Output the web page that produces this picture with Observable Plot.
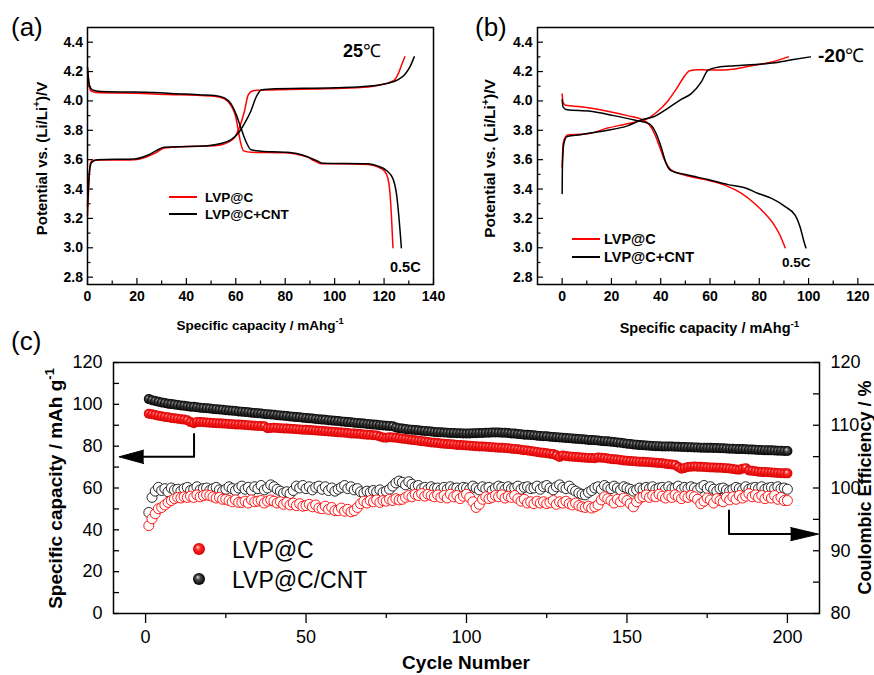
<!DOCTYPE html>
<html><head><meta charset="utf-8">
<script src="https://cdn.jsdelivr.net/npm/d3@7"></script>
<script src="https://cdn.jsdelivr.net/npm/@observablehq/plot@0.6"></script>
<style>
body{margin:0;background:#fff;font-family:"Liberation Sans",Arial,sans-serif;}
#wrap{position:relative;width:874px;height:675px;overflow:hidden;background:#fff}
.panel{position:absolute}
</style></head><body>
<div id="wrap">
<div id="pa" class="panel" style="left:0;top:0;width:440px;height:340px"></div>
<div id="pb" class="panel" style="left:440px;top:0;width:448px;height:340px"></div>
<div id="pc" class="panel" style="left:0;top:330px;width:874px;height:345px"></div>
</div>
<script>
// ---------------- DATA ----------------
const seriesAB = ["LVP@C", "LVP@C+CNT"];
const seriesC = ["LVP@C", "LVP@C/CNT"];
const seriesColors = ["#ff0000", "#000000"];

// panel (a) 25 °C : [capacity mAh/g, potential V]
const aRedCharge = [[0,3.22],[0.5,3.42],[1.1,3.57],[2,3.595],[5,3.597],[12,3.598],[19,3.6],[24,3.62],[28,3.65],[31,3.68],[40.5,3.69],[51,3.695],[55,3.705],[57,3.72],[59.5,3.75],[61.5,3.82],[63.5,3.93],[65,4.04],[67,4.07],[73,4.075],[86.5,4.08],[100,4.085],[113.5,4.095],[120,4.115],[124,4.14],[126,4.195],[127.2,4.25],[128.4,4.3]];
const aBlackCharge = [[0,3.28],[0.7,3.5],[1.6,3.58],[4,3.6],[19,3.605],[24.3,3.63],[27.7,3.66],[31,3.685],[40.5,3.69],[48.6,3.695],[54,3.71],[58,3.735],[60.8,3.776],[63.5,3.845],[66.2,3.935],[68.2,4.025],[70.3,4.075],[73,4.08],[100,4.09],[113.5,4.1],[121.6,4.12],[125.7,4.145],[128.4,4.18],[130.4,4.23],[132.2,4.3]];
const aRedDischarge = [[0,4.2],[0.7,4.1],[1.6,4.066],[5.4,4.055],[19,4.053],[32.4,4.044],[46,4.037],[51.4,4.032],[55.4,4.014],[58,3.97],[60,3.89],[61,3.8],[61.9,3.72],[63.2,3.66],[66.2,3.65],[79.7,3.647],[85,3.636],[89,3.617],[92,3.59],[94.6,3.572],[100,3.572],[113.5,3.567],[117.6,3.549],[120.3,3.52],[121.6,3.47],[122.3,3.39],[123,3.21],[123.6,3.0]];
const aBlackDischarge = [[0,4.23],[0.8,4.105],[2,4.075],[5.4,4.064],[19,4.06],[32.4,4.053],[46,4.041],[51.4,4.037],[55.4,4.021],[58.1,3.98],[60.1,3.91],[62.2,3.81],[64.2,3.72],[66.2,3.667],[70.3,3.658],[79.7,3.651],[85,3.64],[89,3.62],[92.6,3.594],[95.3,3.576],[113.5,3.572],[117.6,3.556],[121,3.526],[123.6,3.47],[125,3.37],[126,3.21],[127,3.0]];

// panel (b) -20 °C
const bRedCharge = [[0,3.55],[0.4,3.71],[1.4,3.757],[2.7,3.77],[7.5,3.773],[11.6,3.78],[18.4,3.815],[25.2,3.84],[30.6,3.86],[34.7,3.88],[38.8,3.93],[42.9,4.0],[46.3,4.08],[49.7,4.17],[51.7,4.206],[55.1,4.213],[59.2,4.21],[66,4.21],[70,4.218],[76.9,4.24],[83.7,4.26],[91.8,4.3]];
const bBlackCharge = [[0,3.37],[0.1,3.55],[0.7,3.71],[2,3.757],[7.5,3.77],[12.9,3.785],[18.4,3.8],[26.5,3.83],[32,3.87],[37.4,3.894],[42.9,3.95],[48.3,4.01],[52.4,4.05],[56.5,4.13],[59.2,4.21],[63.3,4.23],[70,4.24],[79.6,4.25],[86.4,4.26],[93.2,4.28],[100.7,4.3]];
const bRedDischarge = [[0,4.047],[0.3,3.997],[1.4,3.97],[7.5,3.96],[18.4,3.93],[26.5,3.9],[32,3.876],[35.4,3.837],[37.4,3.78],[39.5,3.69],[41.5,3.6],[44.2,3.53],[48.3,3.502],[59.2,3.46],[66,3.427],[72.8,3.37],[78.2,3.3],[82.3,3.233],[85.7,3.165],[88.4,3.085],[90.5,3.0]];
const bBlackDischarge = [[0,4.008],[0.4,3.958],[2,3.94],[11.6,3.93],[21,3.9],[29.3,3.87],[35.4,3.844],[38.1,3.78],[40.1,3.69],[42.2,3.575],[44.2,3.525],[51,3.495],[59.2,3.465],[67.3,3.43],[74.1,3.409],[79.6,3.37],[85,3.336],[90.5,3.28],[94.6,3.22],[96.6,3.14],[98,3.05],[98.9,3.0]];

// panel (c) cycling, cycles 1..200
const capLVP = [95.5,95.2,94.9,94.6,94.3,94.0,93.8,93.5,93.3,93.1,
92.9,92.7,92.4,91.5,91.0,91.6,91.5,91.4,91.3,91.2,
91.1,91.0,90.9,90.8,90.7,90.6,90.5,90.4,90.3,90.2,
90.1,90.0,89.9,89.8,89.7,89.6,89.5,88.6,88.7,88.8,
88.7,88.6,88.5,88.4,88.3,88.2,88.1,88.0,87.9,87.8,
87.7,87.6,87.5,87.4,87.3,87.1,87.0,86.9,86.8,86.6,
86.5,86.4,86.3,86.1,86.0,85.9,85.8,85.6,85.5,85.4,
85.2,85.1,84.6,84.2,84.0,84.3,84.2,84.0,83.8,83.6,
83.4,83.2,83.0,82.8,82.6,82.4,82.2,82.0,81.8,81.6,
81.5,81.3,81.2,81.0,80.9,80.8,80.6,80.5,80.4,80.3,
80.2,80.1,80.0,79.9,79.8,79.7,79.6,79.5,79.4,79.3,
79.2,79.1,79.0,78.8,78.7,78.5,78.3,78.1,77.9,77.7,
77.5,77.2,77.0,76.8,76.6,76.4,76.2,75.6,74.8,75.5,
75.3,75.1,75.0,74.8,74.7,74.6,74.5,74.4,74.3,74.2,
74.6,74.5,74.3,74.1,73.9,73.7,73.6,73.4,73.2,73.0,
72.9,72.8,72.7,72.6,72.5,72.4,72.3,72.2,72.1,72.0,
71.8,71.6,71.4,71.2,71.0,70.0,69.2,69.6,70.0,70.2,
70.3,70.2,70.1,70.0,69.9,69.8,69.8,69.7,69.7,69.6,
69.5,69.3,69.1,68.9,68.7,69.2,69.5,68.4,68.2,68.0,
67.8,67.7,67.6,67.5,67.4,67.3,67.2,67.1,67.0,67.0];
const capCNT = [102.5,102.0,101.6,101.2,100.9,100.6,100.3,100.1,99.9,99.7,
99.5,99.3,99.1,98.9,98.8,98.6,98.4,98.3,98.1,98.0,
97.8,97.7,97.5,97.4,97.2,97.1,96.9,96.8,96.6,96.5,
96.3,96.2,96.0,95.9,95.7,95.6,95.4,95.3,95.1,95.0,
94.8,94.7,94.5,94.4,94.2,94.1,93.9,93.8,93.6,93.5,
93.3,93.2,93.0,92.9,92.7,92.6,92.4,92.3,92.1,92.0,
91.8,91.7,91.5,91.4,91.2,91.1,90.9,90.8,90.6,90.5,
90.3,90.2,90.0,89.9,89.8,89.7,89.5,88.9,88.6,88.4,
88.2,88.0,87.9,87.7,87.6,87.4,87.3,87.1,87.0,86.8,
86.7,86.6,86.5,86.4,86.3,86.3,86.2,86.2,86.1,86.1,
86.1,86.2,86.2,86.3,86.3,86.4,86.4,86.5,86.5,86.5,
86.4,86.4,86.3,86.1,86.0,85.8,85.7,85.5,85.4,85.3,
85.2,85.0,84.9,84.8,84.7,84.5,84.4,84.3,84.2,84.0,
83.9,83.8,83.7,83.5,83.4,83.3,83.2,83.0,82.9,82.8,
82.7,82.5,82.4,82.3,82.1,82.0,81.8,81.6,81.4,81.2,
81.0,80.8,80.7,80.5,80.4,80.3,80.2,80.1,80.0,80.0,
79.9,79.9,79.8,79.8,79.7,79.7,79.6,79.6,79.5,79.5,
79.4,79.4,79.3,79.3,79.2,79.2,79.1,79.1,79.0,79.0,
78.9,78.8,78.8,78.7,78.6,78.6,78.5,78.4,78.4,78.3,
78.2,78.2,78.1,78.0,78.0,77.9,77.8,77.8,77.7,77.7];
const ceLVP = [94.0,95.1,95.9,96.7,96.9,97.3,97.7,98.0,98.3,98.5,
98.4,98.6,98.5,98.7,98.5,98.9,98.6,98.8,98.9,98.8,
98.6,98.4,98.5,98.2,98.2,98.0,97.8,98.1,97.7,97.7,
97.9,97.6,98.1,97.8,97.9,98.0,97.6,97.9,98.1,97.9,
97.6,97.8,97.4,97.7,97.3,97.6,97.2,97.5,97.1,97.2,
97.4,97.0,97.3,96.8,96.7,97.1,96.6,96.9,96.4,96.4,
96.8,96.3,96.6,96.2,96.4,96.9,97.5,97.9,97.6,98.0,
97.8,98.1,97.7,98.0,97.9,98.2,98.0,98.3,98.1,98.2,
98.5,98.8,98.6,99.0,98.8,99.1,98.7,99.0,98.8,98.6,
98.9,98.5,98.8,98.4,99.0,98.6,98.8,98.3,98.7,99.0,
98.5,97.8,96.9,97.4,98.2,98.6,98.3,98.5,98.8,98.6,
98.9,98.4,98.7,98.5,98.8,98.3,97.9,98.2,97.6,97.8,
97.5,97.9,97.6,97.8,97.5,97.7,98.0,97.4,97.8,97.6,
97.9,97.5,97.3,97.6,97.2,97.0,96.9,97.1,96.8,97.0,
97.3,98.1,98.6,98.3,98.0,97.6,98.2,97.8,98.4,98.0,
97.5,97.0,97.8,98.4,98.6,98.9,98.5,98.8,98.6,99.0,
98.7,98.4,98.8,98.5,98.9,98.6,98.3,98.7,98.5,98.8,
98.6,98.2,97.5,97.9,98.4,98.1,97.6,98.3,98.0,97.8,
98.5,98.1,98.6,98.2,98.8,98.4,98.7,99.1,98.6,98.9,
98.5,98.8,98.3,98.7,98.4,98.8,98.2,98.5,98.0,98.0];
const ceCNT = [96.1,98.5,99.5,100.1,99.6,99.9,99.4,100.0,99.7,99.8,
99.5,99.9,100.1,99.6,99.8,100.2,99.7,99.9,100.0,99.6,
99.9,100.1,99.7,99.5,99.8,100.2,99.9,99.6,100.0,100.3,
99.8,100.1,99.6,100.2,99.9,100.4,99.7,100.0,100.5,100.2,
99.8,99.5,99.2,99.4,99.1,99.6,100.3,100.0,100.4,99.9,
100.2,99.7,100.1,100.3,99.8,100.2,99.6,100.0,99.5,99.8,
100.1,100.4,99.9,100.2,99.7,99.9,99.4,99.2,99.5,99.3,
99.6,99.4,99.7,99.3,99.5,99.8,100.3,100.8,101.1,100.9,
100.5,101.0,100.6,100.2,100.4,99.9,100.1,99.8,100.2,99.9,
100.0,99.7,100.1,99.8,100.2,99.9,100.0,99.7,100.1,100.0,
99.8,100.3,100.0,99.7,100.2,99.9,100.1,99.6,100.0,100.3,
100.1,99.8,100.2,99.9,100.0,100.3,99.8,100.1,100.2,99.9,
100.0,100.3,99.8,100.2,100.4,100.0,99.7,100.2,100.5,100.1,
99.9,100.3,99.8,99.5,99.2,99.0,98.9,99.3,99.6,100.0,
100.2,99.8,100.4,100.1,99.9,100.3,100.0,99.7,100.2,100.0,
99.8,99.5,99.7,100.0,99.8,100.1,99.9,100.2,99.8,100.0,
100.1,99.8,100.2,99.9,100.0,100.3,99.8,100.1,99.9,100.2,
100.0,99.7,100.1,100.4,99.9,100.2,99.8,99.5,99.9,100.0,
99.7,99.5,99.8,100.1,99.9,99.7,100.2,99.8,100.0,100.1,
99.9,100.2,99.8,100.0,100.1,99.9,100.2,99.9,100.0,99.8];

// tick values / labels
const aXTicks = [0,20,40,60,80,100,120,140];
const aXMinor = [10,30,50,70,90,110,130];
const bXTicks = [0,20,40,60,80,100,120];
const bXMinor = [10,30,50,70,90,110];
const vTicks = [2.8,3.0,3.2,3.4,3.6,3.8,4.0,4.2,4.4];
const vMinor = [2.9,3.1,3.3,3.5,3.7,3.9,4.1,4.3];
const cycTicks = [0,50,100,150,200];
const cycMinor = [25,75,125,175];
const capTicks = [0,20,40,60,80,100,120];
const capMinor = [10,30,50,70,90,110];
const ceTicks = [80,90,100,110,120];
const ceMinor = [85,95,105,115];

// annotation arrows of panel (c): [cycle, value]
const leftArrowShaft = [[15.1,85.8],[15.1,74.9],[-0.6,74.9]];      // capacity units
const leftArrowHead = [[-0.6,78.1],[-8.3,74.9],[-0.6,71.7]];
const rightArrowShaft = [[181.8,96.4],[181.8,92.65],[201,92.65]];   // CE units
const rightArrowHead = [[201,93.7],[209.7,92.65],[201,91.6]];

// ---------------- HELPERS ----------------
const NS = "http://www.w3.org/2000/svg";
function el(name, attrs) { const e = document.createElementNS(NS, name); for (const k in attrs) e.setAttribute(k, attrs[k]); return e; }
function label(parts, opt) {
  return (index, scales, values, dim) => {
    const [x, y] = opt.at(dim);
    const t = el("text", {transform: `translate(${x},${y}) rotate(${opt.rotate || 0})`, "text-anchor": opt.anchor || "start",
      "font-size": opt.size, "font-weight": opt.weight || "bold", fill: "black"});
    let shift = 0;
    for (const p of [].concat(parts)) {
      const q = typeof p === "string" ? {t: p} : p;
      const target = q.sup ? -opt.size * 0.42 : 0;
      const s = el("tspan", {dy: target - shift});
      shift = target;
      if (q.sup) s.setAttribute("font-size", opt.size * 0.68);
      if (q.w) s.setAttribute("font-weight", q.w);
      s.textContent = q.t;
      t.appendChild(s);
    }
    return t;
  };
}
function lineLegend(names, colors, o) {
  return () => {
    const g = el("g", {});
    names.forEach((name, k) => {
      const y = o.y + k * o.gap;
      g.appendChild(el("line", {x1: o.x, x2: o.x + o.len, y1: y, y2: y, stroke: colors[k], "stroke-width": 2}));
      const t = el("text", {x: o.x + o.len + o.pad, y: y + o.size * 0.36, "text-anchor": "start", "font-size": o.size, "font-weight": "bold", fill: "black"});
      t.textContent = name; g.appendChild(t);
    });
    return g;
  };
}
function ballLegend(names, fills, o) {
  return () => {
    const g = el("g", {});
    names.forEach((name, k) => {
      const y = o.y + k * o.gap;
      g.appendChild(el("circle", {cx: o.x, cy: y, r: o.r, fill: fills[k]}));
      const t = el("text", {x: o.x + o.pad, y: y + o.size * 0.4, "text-anchor": "start", "font-size": o.size, "font-weight": "normal", fill: "black"});
      t.textContent = name; g.appendChild(t);
    });
    return g;
  };
}
const STYLE = {background: "transparent", maxWidth: "none", overflow: "visible",
  fontFamily: '"Liberation Sans", Arial, sans-serif', color: "black"};
const px = d => d[0], py = d => d[1];

function voltagePanel(c) {
  const iw = c.width - c.ml - c.mr, ih = c.height - c.mt - c.mb;
  return Plot.plot({
    width: c.width, height: c.height, marginLeft: c.ml, marginRight: c.mr, marginTop: c.mt, marginBottom: c.mb,
    style: STYLE,
    x: {domain: c.xDomain}, y: {domain: [2.75, 4.5]},
    marks: [
      Plot.tickX(c.xTicks, {x: d => d, insetTop: ih - 6, stroke: "black", strokeWidth: 1.2}),
      Plot.tickX(c.xMinor, {x: d => d, insetTop: ih - 3.5, stroke: "black", strokeWidth: 1.2}),
      Plot.tickY(vTicks, {y: d => d, insetRight: iw - 6, stroke: "black", strokeWidth: 1.2}),
      Plot.tickY(vMinor, {y: d => d, insetRight: iw - 3.5, stroke: "black", strokeWidth: 1.2}),
      Plot.axisX({ticks: c.xTicks, tickSize: 0, tickPadding: 7, fontSize: 14, fontWeight: "bold", label: null}),
      Plot.axisY({ticks: vTicks, tickSize: 0, tickPadding: c.yPad, tickFormat: d => d.toFixed(1), fontSize: 14, fontWeight: "bold", label: null}),
      ...c.curves.map(([data, color]) => Plot.line(data, {x: px, y: py, stroke: color, strokeWidth: 1.5, curve: "monotone-x"})),
      Plot.frame({stroke: "black", strokeWidth: 1.5}),
      ...c.extras
    ]
  });
}

// ---------------- PANEL (a) ----------------
const A = voltagePanel({
  width: 440, height: 340, ml: 87, mr: 7, mt: 27, mb: 56, xDomain: [0, 140], xTicks: aXTicks, xMinor: aXMinor, yPad: 4.5,
  curves: [[aRedCharge, seriesColors[0]], [aRedDischarge, seriesColors[0]], [aBlackCharge, seriesColors[1]], [aBlackDischarge, seriesColors[1]]],
  extras: [
    label(["Potential vs. (Li/Li", {t: "+", sup: true}, ")/V"], {at: d => [d.marginLeft - 40.5, (d.marginTop + d.height - d.marginBottom) / 2 + 3], rotate: -90, anchor: "middle", size: 15}),
    label(["Specific capacity / mAhg", {t: "-1", sup: true}], {at: d => [(d.marginLeft + d.width - d.marginRight) / 2, d.height - 10], anchor: "middle", size: 13.5}),
    label("(a)", {at: () => [11, 36], size: 26, weight: "normal"}),
    label(["25", {t: "℃", w: "normal"}], {at: () => [343, 57], size: 18}),
    label("0.5C", {at: () => [390, 271.5], size: 14.5}),
    lineLegend(seriesAB, seriesColors, {x: 169, y: 197, len: 28, gap: 17, pad: 8, size: 13.5})
  ]
});
document.getElementById("pa").appendChild(A);

// ---------------- PANEL (b) ----------------
const B = voltagePanel({
  width: 448, height: 340, ml: 97, mr: 6, mt: 27, mb: 56, xDomain: [-10, 130], xTicks: bXTicks, xMinor: bXMinor, yPad: 5,
  curves: [[bRedCharge, seriesColors[0]], [bRedDischarge, seriesColors[0]], [bBlackCharge, seriesColors[1]], [bBlackDischarge, seriesColors[1]]],
  extras: [
    label(["Potential vs. (Li/Li", {t: "+", sup: true}, ")/V"], {at: d => [d.marginLeft - 42, (d.marginTop + d.height - d.marginBottom) / 2 + 3], rotate: -90, anchor: "middle", size: 15.5}),
    label(["Specific capacity / mAhg", {t: "-1", sup: true}], {at: d => [(d.marginLeft + d.width - d.marginRight) / 2, d.height - 7], anchor: "middle", size: 14.5}),
    label("(b)", {at: () => [35, 36], size: 26, weight: "normal"}),
    label(["-20", {t: "℃", w: "normal"}], {at: () => [378, 62], size: 19}),
    label("0.5C", {at: () => [342, 266.5], size: 13.5}),
    lineLegend(seriesAB, seriesColors, {x: 132, y: 239, len: 28, gap: 18, pad: 4, size: 14.5})
  ]
});
document.getElementById("pb").appendChild(B);

// ---------------- PANEL (c) ----------------
const toLeft = v => (v - 80) * 3;  // CE (80..120 %) onto capacity axis (0..120)
const cW = 874, cH = 345, cML = 113, cMR = 55, cMT = 32, cMB = 62;
const ciw = cW - cML - cMR;
const cyc = (d, i) => i + 1;
const C = Plot.plot({
  width: cW, height: cH, marginLeft: cML, marginRight: cMR, marginTop: cMT, marginBottom: cMB,
  style: STYLE,
  x: {domain: [-10, 210]}, y: {domain: [0, 120]},
  marks: [
    Plot.axisX({ticks: cycTicks, tickSize: 10, tickPadding: 7, fontSize: 18, label: null, strokeWidth: 1.3}),
    Plot.axisX({ticks: cycMinor, tickSize: 5, tickFormat: () => "", label: null, strokeWidth: 1.3}),
    Plot.axisY({ticks: capTicks, tickSize: 0, tickPadding: 11, fontSize: 18, label: null}),
    Plot.axisY({anchor: "right", ticks: ceTicks.map(toLeft), tickFormat: d => String(Math.round(80 + d / 3)), tickSize: 0, tickPadding: 11, fontSize: 18, label: null}),
    Plot.tickY([...capTicks, ...capMinor], {y: d => d, insetRight: ciw - 6, stroke: "black", strokeWidth: 1.3}),
    Plot.tickY([...ceTicks, ...ceMinor].map(toLeft), {y: d => d, insetLeft: ciw - 6, stroke: "black", strokeWidth: 1.3}),
    Plot.dot(ceCNT, {x: cyc, y: d => toLeft(d), r: 5, fill: "white", stroke: "#111", strokeWidth: 0.9}),
    Plot.dot(ceLVP, {x: cyc, y: d => toLeft(d), r: 5, fill: "white", stroke: "#ff0000", strokeWidth: 0.9}),
    Plot.dot(capCNT, {x: cyc, y: d => d, r: 5, fill: "url(#ballBlack)"}),
    Plot.dot(capLVP, {x: cyc, y: d => d, r: 5, fill: "url(#ballRed)"}),
    Plot.line(leftArrowShaft, {x: px, y: py, stroke: "black", strokeWidth: 2}),
    Plot.line(leftArrowHead, {x: px, y: py, fill: "black", stroke: "black", strokeWidth: 1}),
    Plot.line(rightArrowShaft, {x: px, y: d => toLeft(d[1]), stroke: "black", strokeWidth: 2}),
    Plot.line(rightArrowHead, {x: px, y: d => toLeft(d[1]), fill: "black", stroke: "black", strokeWidth: 1}),
    Plot.frame({stroke: "black", strokeWidth: 1.5}),
    label(["Specific capacity / mAh g", {t: "-1", sup: true}], {at: d => [d.marginLeft - 51, (d.marginTop + d.height - d.marginBottom) / 2 + 1], rotate: -90, anchor: "middle", size: 19}),
    label("Coulombic Efficiency / %", {at: d => [d.width - d.marginRight + 52, (d.marginTop + d.height - d.marginBottom) / 2], rotate: -90, anchor: "middle", size: 18}),
    label("Cycle Number", {at: d => [(d.marginLeft + d.width - d.marginRight) / 2, d.height - 6], anchor: "middle", size: 19}),
    label("(c)", {at: () => [11, 20], size: 26, weight: "normal"}),
    ballLegend(seriesC, ["url(#ballRed)", "url(#ballBlack)"], {x: 199, y: 219, gap: 30, r: 6, pad: 33, size: 23})
  ]
});
// gradients for the shaded balls
const defs = d3.select(C).insert("defs", ":first-child");
function ball(id, c0, c1, c2) {
  const g = defs.append("radialGradient").attr("id", id).attr("cx", "50%").attr("cy", "50%").attr("r", "50%").attr("fx", "38%").attr("fy", "32%");
  g.append("stop").attr("offset", "0%").attr("stop-color", c0);
  g.append("stop").attr("offset", "40%").attr("stop-color", c1);
  g.append("stop").attr("offset", "100%").attr("stop-color", c2);
}
ball("ballRed", "#ffe4e4", "#ff2a2a", "#d80000");
ball("ballBlack", "#dcdcdc", "#4a4a4a", "#000000");
document.getElementById("pc").appendChild(C);
</script></body></html>
